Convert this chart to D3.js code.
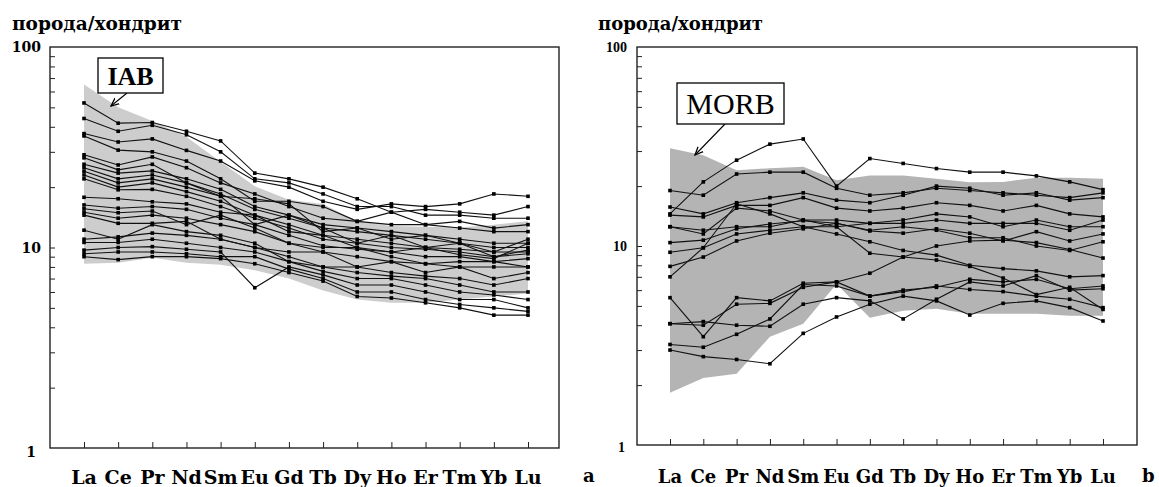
<!DOCTYPE html>
<html>
<head>
<meta charset="utf-8">
<script src="https://cdn.jsdelivr.net/npm/d3@7"></script>
<style>
    body { margin: 0; background: #fff; }
    svg { display: block; }
</style>
</head>
<body>
<svg id="chart" width="1159" height="487"></svg>
<script>
/*jslint browser: true*/

var elements = ['La', 'Ce', 'Pr', 'Nd', 'Sm', 'Eu', 'Gd', 'Tb', 'Dy', 'Ho', 'Er', 'Tm', 'Yb', 'Lu'];
var yTickLabels = ['1', '10', '100'];
var yMinorTicks = [2, 3, 4, 5, 6, 7, 8, 9, 10, 20, 30, 40, 50, 60, 70, 80, 90];

// IAB field (panel a)
var iabUpper = [65, 50, 42.7, 35.6, 26.8, 20.2, 17.3, 16.5, 13.5, 12.8, 12.7, 12.6, 13.0, 13.5];
var iabLower = [8.3, 8.4, 8.9, 8.4, 8.2, 7.7, 7.0, 6.1, 5.5, 5.3, 5.3, 5.5, 5.7, 5.9];

// samples, panel a
var samplesA = [
    [52.6, 41.7, 42, 38, 34, 23.5, 22, 20, 17.5, 15, 15.5, 15, 14.5, 16],
    [44, 38, 40.7, 36.5, 30, 22, 21, 18.5, 16, 16, 14.5, 14.5, 14, 14],
    [37, 33.6, 34.8, 30.5, 27, 21.5, 20, 17, 15.5, 16.5, 16, 16.5, 18.5, 18],
    [36, 30.6, 30, 27, 22, 17, 17, 16, 13.5, 15, 13, 13.5, 12.5, 13],
    [29, 25.8, 28.3, 25, 21, 18.5, 16, 14, 13.5, 13, 13, 12.5, 12, 12],
    [28, 24.4, 26, 21, 18, 17.5, 16.5, 12, 12.5, 11, 11.5, 10.5, 9.5, 11],
    [26, 23.5, 24.1, 22, 19.5, 16, 14.5, 13, 12.5, 12, 11.5, 11, 10.5, 10.5],
    [25, 22, 23, 21, 18.5, 15.5, 14, 12.5, 12, 11.5, 11, 10.5, 10, 10],
    [24, 21, 22, 20, 18, 13, 14.5, 12.5, 10.5, 11.5, 10, 10.5, 9, 9.7],
    [23, 20, 21, 19, 17, 14.5, 13, 11.5, 11, 10.5, 10, 9.8, 9.5, 9.5],
    [22, 19.4, 19.5, 18, 16, 14, 12.5, 11, 10.5, 10, 9.8, 9.5, 9, 9.3],
    [17.8, 17.5, 16.9, 16.5, 15, 14.5, 12, 11.5, 10, 9.5, 10, 9.2, 8.8, 10.5],
    [16.3, 15.7, 16, 15.5, 14, 13, 11.5, 10.2, 9.8, 9.5, 9, 9, 8.5, 8.8],
    [15.6, 14.9, 15.2, 13, 14.5, 12.5, 10.5, 10, 10, 9, 8.3, 8.5, 8.5, 8],
    [15, 14, 14.5, 14, 13, 12, 10.5, 9.5, 9, 8.5, 8.3, 8, 8, 8],
    [14.5, 13.2, 13.2, 13.5, 11, 10, 9.5, 9.5, 8, 8.5, 7.5, 8, 7, 7.5],
    [12.2, 11, 13, 12, 11.5, 10.5, 8.5, 8, 8, 7.5, 7.2, 7, 6.5, 7],
    [11, 11.3, 11.8, 11.5, 11, 10, 9, 8, 7.5, 7.2, 7, 6.5, 6, 6],
    [10.6, 10.6, 11, 10.5, 10, 9.5, 8.5, 7.6, 7, 7, 6.5, 6, 5.8, 5.5],
    [9.7, 10, 10.1, 9.8, 9.5, 6.3, 8, 7.3, 6.5, 6.5, 6, 5.5, 5.5, 5],
    [9.3, 9.5, 9.5, 9.3, 9.0, 9, 7.8, 7, 6, 6, 5.5, 5.2, 5.0, 4.8],
    [9.0, 8.7, 9.0, 9.0, 8.8, 8.3, 7.5, 6.8, 5.7, 5.6, 5.3, 5.0, 4.6, 4.6]
];

// MORB field (panel b)
var morbUpper = [31, 28.6, 24, 24.6, 25, 21.4, 22.6, 22.6, 21.8, 20.9, 21, 22, 22, 21.8];
var morbLower = [1.83, 2.17, 2.28, 3.5, 4.07, 6.45, 4.36, 4.73, 4.84, 4.57, 4.57, 4.57, 4.46, 4.46];

// samples, panel b
var samplesB = [
    [14.5, 21, 27, 32.5, 34.5, 20, 27.5, 26, 24.5, 23.5, 23.5, 22.5, 21, 19.2],
    [19, 18, 23, 23.5, 23.5, 19.5, 18, 18.5, 19.5, 19, 18.5, 18, 17.5, 18.5],
    [15.7, 14.5, 16.5, 17.5, 18.5, 17, 16.5, 18, 20, 19.5, 18, 18.5, 17, 17.5],
    [14.3, 14, 16, 16, 17.5, 15.5, 15, 15.5, 16.5, 16, 15, 16, 14.5, 14],
    [12.5, 11.5, 15.5, 15, 13.5, 12.5, 13, 13.5, 14.5, 14, 12.5, 13.5, 12.5, 12.5],
    [12.5, 12, 12.5, 12.5, 13.5, 13.5, 13, 13, 13.5, 13, 13, 13, 12, 13.5],
    [10.4, 10.7, 12.2, 12.9, 13.4, 13, 11.9, 11.6, 12.2, 11.6, 10.6, 11.8, 10.6, 11.5],
    [9.3, 9.8, 11.5, 12, 12.5, 12.5, 9.2, 8.8, 8.5, 7.9, 6.9, 5.7, 6.2, 4.8],
    [7.9, 8.8, 10.6, 11.6, 12.2, 13, 12, 12.5, 12, 11, 11, 10, 9.5, 10.5],
    [7.0, 9.8, 16.3, 14.5, 12.5, 11.5, 10.5, 9.5, 9, 8, 7.7, 7.5, 7, 7.1],
    [5.5, 3.5, 5.5, 5.3, 6.5, 6.6, 7.3, 8.8, 10, 10.6, 10.7, 10.4, 9.6, 8.7],
    [4.07, 4.0, 5.1, 5.15, 6.2, 6.6, 5.6, 6.0, 6.2, 6.8, 6.6, 6.8, 6.1, 6.3],
    [4.07, 4.17, 4.0, 3.95, 5.1, 5.5, 5.3, 4.3, 5.4, 6.6, 6.3, 7.1, 6.0, 6.1],
    [3.2, 3.1, 3.6, 4.3, 6.4, 6.3, 5.6, 5.9, 6.3, 6.05, 5.9, 5.6, 5.4, 4.9],
    [3.0, 2.78, 2.69, 2.56, 3.64, 4.4, 5.1, 5.6, 5.3, 4.5, 5.15, 5.3, 4.9, 4.2]
];

(function (d3) {
    'use strict';

    var svg = d3.select('#chart');

    svg.append('defs').append('marker')
        .attr('id', 'arrow')
        .attr('viewBox', '0 0 10 10')
        .attr('refX', 9).attr('refY', 5)
        .attr('markerWidth', 9).attr('markerHeight', 9)
        .attr('markerUnits', 'userSpaceOnUse')
        .attr('orient', 'auto')
      .append('path')
        .attr('d', 'M0,1 L9,5 L0,9')
        .attr('fill', 'none')
        .attr('stroke', '#000')
        .attr('stroke-width', 1.4);

    function drawPanel(p) {
        var g = svg.append('g');
        var x = d3.scalePoint().domain(elements).range([p.first, p.last]);
        var y = d3.scaleLog().domain([1, 100]).range([p.y1, p.y0]);

        var band = elements.map(function (el, i) {
            return {el: el, lo: p.lower[i], hi: p.upper[i]};
        });
        g.append('path')
            .datum(band)
            .attr('fill', p.bandColor)
            .attr('d', d3.area()
                .x(function (d) { return x(d.el); })
                .y0(function (d) { return y(d.lo); })
                .y1(function (d) { return y(d.hi); }));

        var line = d3.line()
            .x(function (d, i) { return x(elements[i]); })
            .y(function (d) { return y(d); });

        g.selectAll('path.sample')
            .data(p.samples).enter()
          .append('path')
            .attr('class', 'sample')
            .attr('fill', 'none')
            .attr('stroke', '#111')
            .attr('stroke-width', 1.1)
            .attr('d', line);

        p.samples.forEach(function (s) {
            g.selectAll(null)
                .data(s).enter()
              .append('rect')
                .attr('x', function (d, i) { return x(elements[i]) - 1.8; })
                .attr('y', function (d) { return y(d) - 1.8; })
                .attr('width', 3.6).attr('height', 3.6)
                .attr('fill', '#000');
        });

        // frame
        g.append('rect')
            .attr('x', p.x0).attr('y', p.y0)
            .attr('width', p.x1 - p.x0).attr('height', p.y1 - p.y0)
            .attr('fill', 'none')
            .attr('stroke', '#222')
            .attr('stroke-width', 1.4);

        // inner log ticks on the left side
        g.append('g')
            .attr('transform', 'translate(' + p.x0 + ',0)')
            .call(d3.axisRight(y).tickValues(yMinorTicks).tickSize(5).tickFormat(''))
            .call(function (a) { a.select('.domain').remove(); })
            .selectAll('line').attr('stroke', '#222');

        g.selectAll('text.ylab')
            .data(yTickLabels).enter()
          .append('text')
            .attr('class', 'ylab')
            .attr('x', function (d) { return p.labelX - (d === '1' ? p.oneDx : 0); })
            .attr('y', function (d) { return y(+d) + (d === '1' ? p.oneDy : 0); })
            .attr('dy', '0.36em')
            .attr('text-anchor', 'end')
            .style('font-family', p.yFont)
            .style('font-weight', 'bold')
            .style('font-size', p.yFontSize + 'px')
            .text(function (d) { return d; });

        // element ticks along the bottom, pointing up
        g.append('g')
            .attr('transform', 'translate(0,' + p.y1 + ')')
            .call(d3.axisTop(x).tickSize(6).tickFormat(''))
            .call(function (a) { a.select('.domain').remove(); })
            .selectAll('line').attr('stroke', '#222');

        g.selectAll('text.xlab')
            .data(elements).enter()
          .append('text')
            .attr('class', 'xlab')
            .attr('x', function (d) { return x(d); })
            .attr('y', p.xLabelY)
            .attr('text-anchor', 'middle')
            .style('font-family', 'DejaVu Serif')
            .style('font-weight', 'bold')
            .style('font-size', p.xFontSize + 'px')
            .text(function (d) { return d; });

        g.append('text')
            .attr('x', p.titleX).attr('y', 30)
            .attr('textLength', p.titleW)
            .attr('lengthAdjust', 'spacingAndGlyphs')
            .style('font-family', 'DejaVu Serif')
            .style('font-weight', 'bold')
            .style('font-size', '19px')
            .text('порода/хондрит');

        g.append('text')
            .attr('x', p.letterX).attr('y', p.letterY)
            .style('font-family', 'DejaVu Serif')
            .style('font-weight', 'bold')
            .style('font-size', '18px')
            .text(p.letter);

        // field label with arrow
        g.append('line')
            .attr('x1', p.arrow[0]).attr('y1', p.arrow[1])
            .attr('x2', p.arrow[2]).attr('y2', p.arrow[3])
            .attr('stroke', '#000')
            .attr('stroke-width', 1.1)
            .attr('marker-end', 'url(#arrow)');
        g.append('rect')
            .attr('x', p.box[0]).attr('y', p.box[1])
            .attr('width', p.box[2]).attr('height', p.box[3])
            .attr('fill', '#fff')
            .attr('stroke', '#000')
            .attr('stroke-width', 1.3);
        g.append('text')
            .attr('x', p.box[0] + p.box[2] / 2)
            .attr('y', p.box[1] + p.box[3] / 2)
            .attr('dy', '0.35em')
            .attr('text-anchor', 'middle')
            .style('font-family', 'Liberation Serif')
            .style('font-weight', p.fieldWeight)
            .style('font-size', p.fieldSize + 'px')
            .text(p.field);
    }

    drawPanel({
        x0: 50, x1: 559, y0: 47, y1: 448, first: 84, last: 528,
        upper: iabUpper, lower: iabLower, samples: samplesA, bandColor: '#cdcdcd',
        labelX: 41, oneDx: 5, oneDy: 4, yFont: 'DejaVu Serif', yFontSize: 14,
        xLabelY: 484, xFontSize: 19,
        titleX: 12, titleW: 170, letter: 'a', letterX: 583, letterY: 482,
        field: 'IAB', fieldWeight: 'bold', fieldSize: 26,
        box: [98, 58, 65, 35], arrow: [127, 93, 111, 106]
    });

    drawPanel({
        x0: 637, x1: 1137, y0: 47, y1: 445, first: 670, last: 1103,
        upper: morbUpper, lower: morbLower, samples: samplesB, bandColor: '#b4b4b4',
        labelX: 627, oneDx: 2, oneDy: 2, yFont: 'Liberation Serif', yFontSize: 14,
        xLabelY: 483, xFontSize: 18,
        titleX: 598, titleW: 165, letter: 'b', letterX: 1142, letterY: 482,
        field: 'MORB', fieldWeight: 'normal', fieldSize: 30,
        box: [677, 83, 107, 41], arrow: [725, 124, 695, 155]
    });

}(window.d3));
</script>
</body>
</html>
